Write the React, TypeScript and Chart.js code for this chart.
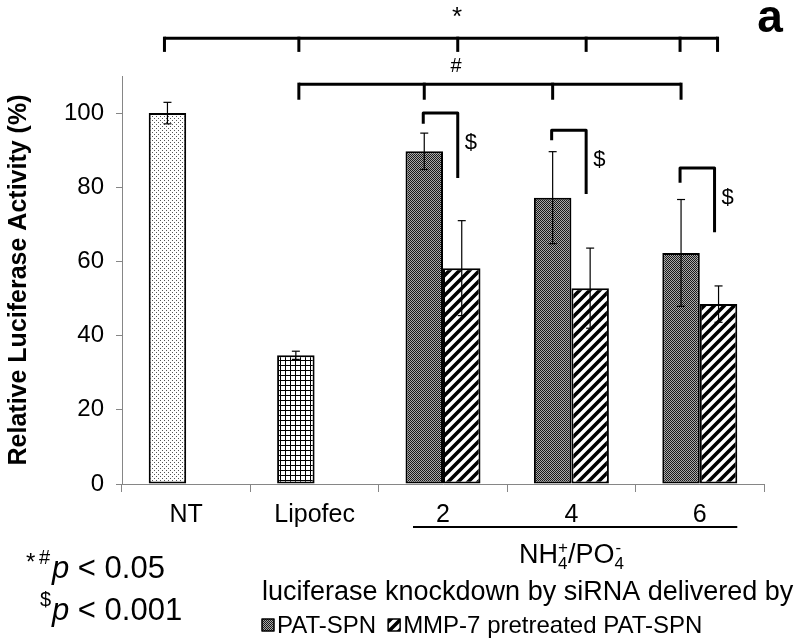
import { useEffect, useRef } from 'react';
import { Chart, registerables } from 'chart.js';

Chart.register(...registerables);

// ---- data ----
const categories = ['NT', 'Lipofec', '2', '4', '6'];
const patSpnValues: (number | null)[] = [100, 34.7, 89.7, 77.2, 62.3];
const mmpValues: (number | null)[] = [null, null, 58.2, 52.8, 48.5];
const patSpnErrors: (number | null)[] = [2.9, 1.1, 4.9, 12.4, 14.4];
const mmpErrors: (number | null)[] = [null, null, 12.8, 10.8, 4.9];
const seriesNames = ['PAT-SPN', 'MMP-7 pretreated PAT-SPN'];
const yAxisTitle = 'Relative Luciferase Activity (%)';
const legendTitle = 'luciferase knockdown by siRNA delivered by';

// significance brackets (levels in axis units)
const starLevels = [120.2, 116.5];
const starDrops: [number, number, number][] = [[0, 0, -3], [0, 1, 3], [1, 2, -4], [1, 3, -4], [0, 4, -1], [1, 4, -1]];
const hashLevels = [107.8, 103.6];
const hashDrops: [number, number, number][] = [[0, 1, 3], [0, 2, 0], [0, 3, 0], [0, 4, 0]];
const dollarGroups = [2, 3, 4];
const dollarLevels: [number, number, number][] = [[100.0, 97.1, 82.5], [95.4, 92.7, 78.2], [85.2, 81.2, 67.9]];

const FONT = '"Liberation Sans", Arial, sans-serif';

function makePattern(w: number, h: number, draw: (g: CanvasRenderingContext2D) => void) {
  const c = document.createElement('canvas');
  c.width = w;
  c.height = h;
  const g = c.getContext('2d')!;
  draw(g);
  return g.createPattern(c, 'repeat')!;
}

function buildPatterns() {
  const dots = makePattern(4, 4, (g) => {
    g.fillStyle = '#ffffff';
    g.fillRect(0, 0, 4, 4);
    g.fillStyle = '#555';
    g.fillRect(0, 0, 1, 1);
    g.fillRect(2, 2, 1, 1);
  });
  const grid = makePattern(5, 5, (g) => {
    g.fillStyle = '#ffffff';
    g.fillRect(0, 0, 5, 5);
    g.fillStyle = '#000';
    g.fillRect(0, 0, 5, 1);
    g.fillRect(0, 0, 1, 5);
  });
  const checker = makePattern(2, 2, (g) => {
    g.fillStyle = '#aaaaaa';
    g.fillRect(0, 0, 2, 2);
    g.fillStyle = '#1a1a1a';
    g.fillRect(0, 0, 1, 1);
    g.fillRect(1, 1, 1, 1);
  });
  const hatch = makePattern(10, 10, (g) => {
    g.fillStyle = '#ffffff';
    g.fillRect(0, 0, 10, 10);
    g.strokeStyle = '#000';
    g.lineWidth = 3.6;
    g.beginPath();
    g.moveTo(-5, 5); g.lineTo(5, -5);
    g.moveTo(0, 10); g.lineTo(10, 0);
    g.moveTo(5, 15); g.lineTo(15, 5);
    g.stroke();
  });
  return { dots, grid, checker, hatch };
}

export default function App() {
  const ref = useRef<HTMLCanvasElement>(null);

  useEffect(() => {
    const canvas = ref.current!;
    const pats = buildPatterns();

    const line = (ctx: CanvasRenderingContext2D, x1: number, y1: number, x2: number, y2: number) => {
      ctx.beginPath();
      ctx.moveTo(x1, y1);
      ctx.lineTo(x2, y2);
      ctx.stroke();
    };

    const annot = {
      id: 'annot',
      afterDatasetsDraw(chart: any) {
        const ctx: CanvasRenderingContext2D = chart.ctx;
        const y = chart.scales.y;
        ctx.save();
        ctx.strokeStyle = '#000';
        ctx.lineWidth = 1.2;
        [patSpnErrors, mmpErrors].forEach((errs, di) => {
          const vals = di === 0 ? patSpnValues : mmpValues;
          const meta = chart.getDatasetMeta(di);
          errs.forEach((e, i) => {
            const v = vals[i];
            if (e == null || v == null) return;
            const x = meta.data[i].x;
            const t = y.getPixelForValue(v + e);
            const b = y.getPixelForValue(v - e);
            line(ctx, x, t, x, b);
            line(ctx, x - 4, t, x + 4, t);
            line(ctx, x - 4, b, x + 4, b);
          });
        });
        ctx.restore();
      },
      afterDraw(chart: any) {
        const ctx: CanvasRenderingContext2D = chart.ctx;
        const y = chart.scales.y;
        const xs = chart.scales.x;
        const bx = (d: number, i: number) => chart.getDatasetMeta(d).data[i].x;
        ctx.save();
        ctx.strokeStyle = '#000';
        ctx.fillStyle = '#000';
        ctx.lineWidth = 3;
        ctx.lineJoin = 'round';

        // star bracket
        const sTop = y.getPixelForValue(starLevels[0]);
        const sBot = y.getPixelForValue(starLevels[1]);
        const sx = starDrops.map(([d, i, o]) => bx(d, i) + o);
        line(ctx, sx[0], sTop, sx[sx.length - 1], sTop);
        sx.forEach((x) => line(ctx, x, sTop - 1.5, x, sBot));
        // hash bracket
        const hTop = y.getPixelForValue(hashLevels[0]);
        const hBot = y.getPixelForValue(hashLevels[1]);
        const hx = hashDrops.map(([d, i, o]) => bx(d, i) + o);
        line(ctx, hx[0], hTop, hx[hx.length - 1], hTop);
        hx.forEach((x) => line(ctx, x, hTop - 1.5, x, hBot));
        // dollar brackets
        ctx.textAlign = 'left';
        ctx.textBaseline = 'middle';
        ctx.font = `22px ${FONT}`;
        dollarGroups.forEach((gi, k) => {
          const [top, l, r] = dollarLevels[k];
          const x1 = bx(0, gi) - 1;
          const x2 = bx(1, gi) - 4;
          const yt = y.getPixelForValue(top);
          ctx.beginPath();
          ctx.moveTo(x1, y.getPixelForValue(l));
          ctx.lineTo(x1, yt);
          ctx.lineTo(x2, yt);
          ctx.lineTo(x2, y.getPixelForValue(r));
          ctx.stroke();
          ctx.fillText('$', x2 + 7, yt + 30);
        });

        // symbols above brackets
        ctx.textAlign = 'center';
        ctx.font = `26px ${FONT}`;
        ctx.fillText('*', (sx[2] + sx[3]) / 2 - 65, sTop - 20);
        ctx.font = `20px ${FONT}`;
        ctx.fillText('#', (sx[2] + sx[3]) / 2 - 66, hTop - 18);
        ctx.font = `bold 46px ${FONT}`;
        ctx.textBaseline = 'alphabetic';
        ctx.fillText('a', 770, 32);

        // underline below 2/4/6
        ctx.lineWidth = 2;
        const meta1 = chart.getDatasetMeta(1).data[4];
        line(ctx, xs.getPixelForValue(2) - 30, 527, meta1.x + meta1.width / 2, 527);

        // NH4+/PO4-
        const mainSize = 27;
        const subSize = 17;
        ctx.font = `${mainSize}px ${FONT}`;
        const wNH = ctx.measureText('NH').width;
        const wPO = ctx.measureText('/PO').width;
        ctx.font = `${subSize}px ${FONT}`;
        const wS1 = Math.max(ctx.measureText('4').width, ctx.measureText('+').width);
        const wS2 = Math.max(ctx.measureText('4').width, ctx.measureText('-').width);
        const total = wNH + wS1 + wPO + wS2;
        let cx = xs.getPixelForValue(3) - total / 2;
        const base = 563;
        ctx.textAlign = 'left';
        ctx.font = `${mainSize}px ${FONT}`; ctx.fillText('NH', cx, base); cx += wNH;
        ctx.font = `${subSize}px ${FONT}`; ctx.fillText('4', cx, base + 6); ctx.fillText('+', cx, base - 10);
        cx += wS1;
        ctx.font = `${mainSize}px ${FONT}`; ctx.fillText('/PO', cx, base); cx += wPO;
        ctx.font = `${subSize}px ${FONT}`; ctx.fillText('4', cx, base + 6); ctx.fillText('-', cx + 1, base - 10);

        // legend title and legend
        ctx.font = `27px ${FONT}`;
        ctx.fillText(legendTitle, 262, 600);
        ctx.font = `24px ${FONT}`;
        let lx = 262;
        const ly = 633;
        [pats.checker, pats.hatch].forEach((p, i) => {
          ctx.fillStyle = p;
          ctx.fillRect(lx, ly - 14, 12, 12);
          ctx.lineWidth = 1.5;
          ctx.strokeRect(lx, ly - 14, 12, 12);
          ctx.fillStyle = '#000';
          ctx.fillText(seriesNames[i], lx + 15, ly);
          lx += 15 + ctx.measureText(seriesNames[i]).width + 12;
        });

        // p-value notes
        const note = (sup: string, supX: number, x: number, yb: number, rest: string) => {
          ctx.font = `20px ${FONT}`;
          ctx.fillText(sup, supX, yb - 14);
          ctx.font = `italic 31px ${FONT}`;
          ctx.fillText('p', x, yb);
          const pw = ctx.measureText('p').width;
          ctx.font = `31px ${FONT}`;
          ctx.fillText(rest, x + pw, yb);
        };
        ctx.font = `24px ${FONT}`;
        ctx.fillText('*', 26, 570);
        note('#', 39, 52, 578, ' < 0.05');
        note('$', 40, 52, 620, ' < 0.001');
        ctx.restore();
      },
    };

    const chart = new Chart(canvas, {
      type: 'bar',
      data: {
        labels: categories,
        datasets: [
          {
            label: seriesNames[0],
            data: patSpnValues,
            backgroundColor: [pats.dots, pats.grid, pats.checker, pats.checker, pats.checker] as any,
            borderColor: '#000',
            borderWidth: 2,
            borderSkipped: false,
          },
          {
            label: seriesNames[1],
            data: mmpValues,
            backgroundColor: pats.hatch as any,
            borderColor: '#000',
            borderWidth: 2,
            borderSkipped: false,
          },
        ],
      },
      options: {
        animation: false,
        responsive: false,
        devicePixelRatio: 1,
        layout: { padding: { top: 76, right: 36, left: 0, bottom: 0 } },
        datasets: { bar: { categoryPercentage: 0.584, barPercentage: 1 } },
        plugins: { legend: { display: false }, tooltip: { enabled: false } },
        scales: {
          x: {
            grid: { drawOnChartArea: false, drawTicks: true, tickLength: 8, color: '#868686', offset: true },
            border: { color: '#868686', width: 1 },
            ticks: { color: '#000', font: { family: FONT, size: 25 }, padding: 8 },
            afterFit: (s: any) => { s.height = 160; },
          },
          y: {
            min: 0,
            max: 110,
            grid: { drawOnChartArea: false, drawTicks: true, tickLength: 6, color: '#868686' },
            border: { color: '#868686', width: 1 },
            ticks: { stepSize: 20, color: '#000', font: { family: FONT, size: 24 }, padding: 12 },
            afterBuildTicks: (s: any) => { s.ticks = s.ticks.filter((t: any) => t.value <= 100); },
            afterFit: (s: any) => { s.width = 122; },
            title: {
              display: true,
              text: yAxisTitle,
              color: '#000',
              font: { family: FONT, size: 25, weight: 'bold' },
              padding: { top: 4, bottom: 0 },
            },
          },
        },
      },
      plugins: [annot],
    } as any);

    return () => chart.destroy();
  }, []);

  return (
    <div style={{ position: 'absolute', left: 0, top: 0, width: 800, height: 644, background: '#fff' }}>
      <canvas ref={ref} width={800} height={644} />
    </div>
  );
}
